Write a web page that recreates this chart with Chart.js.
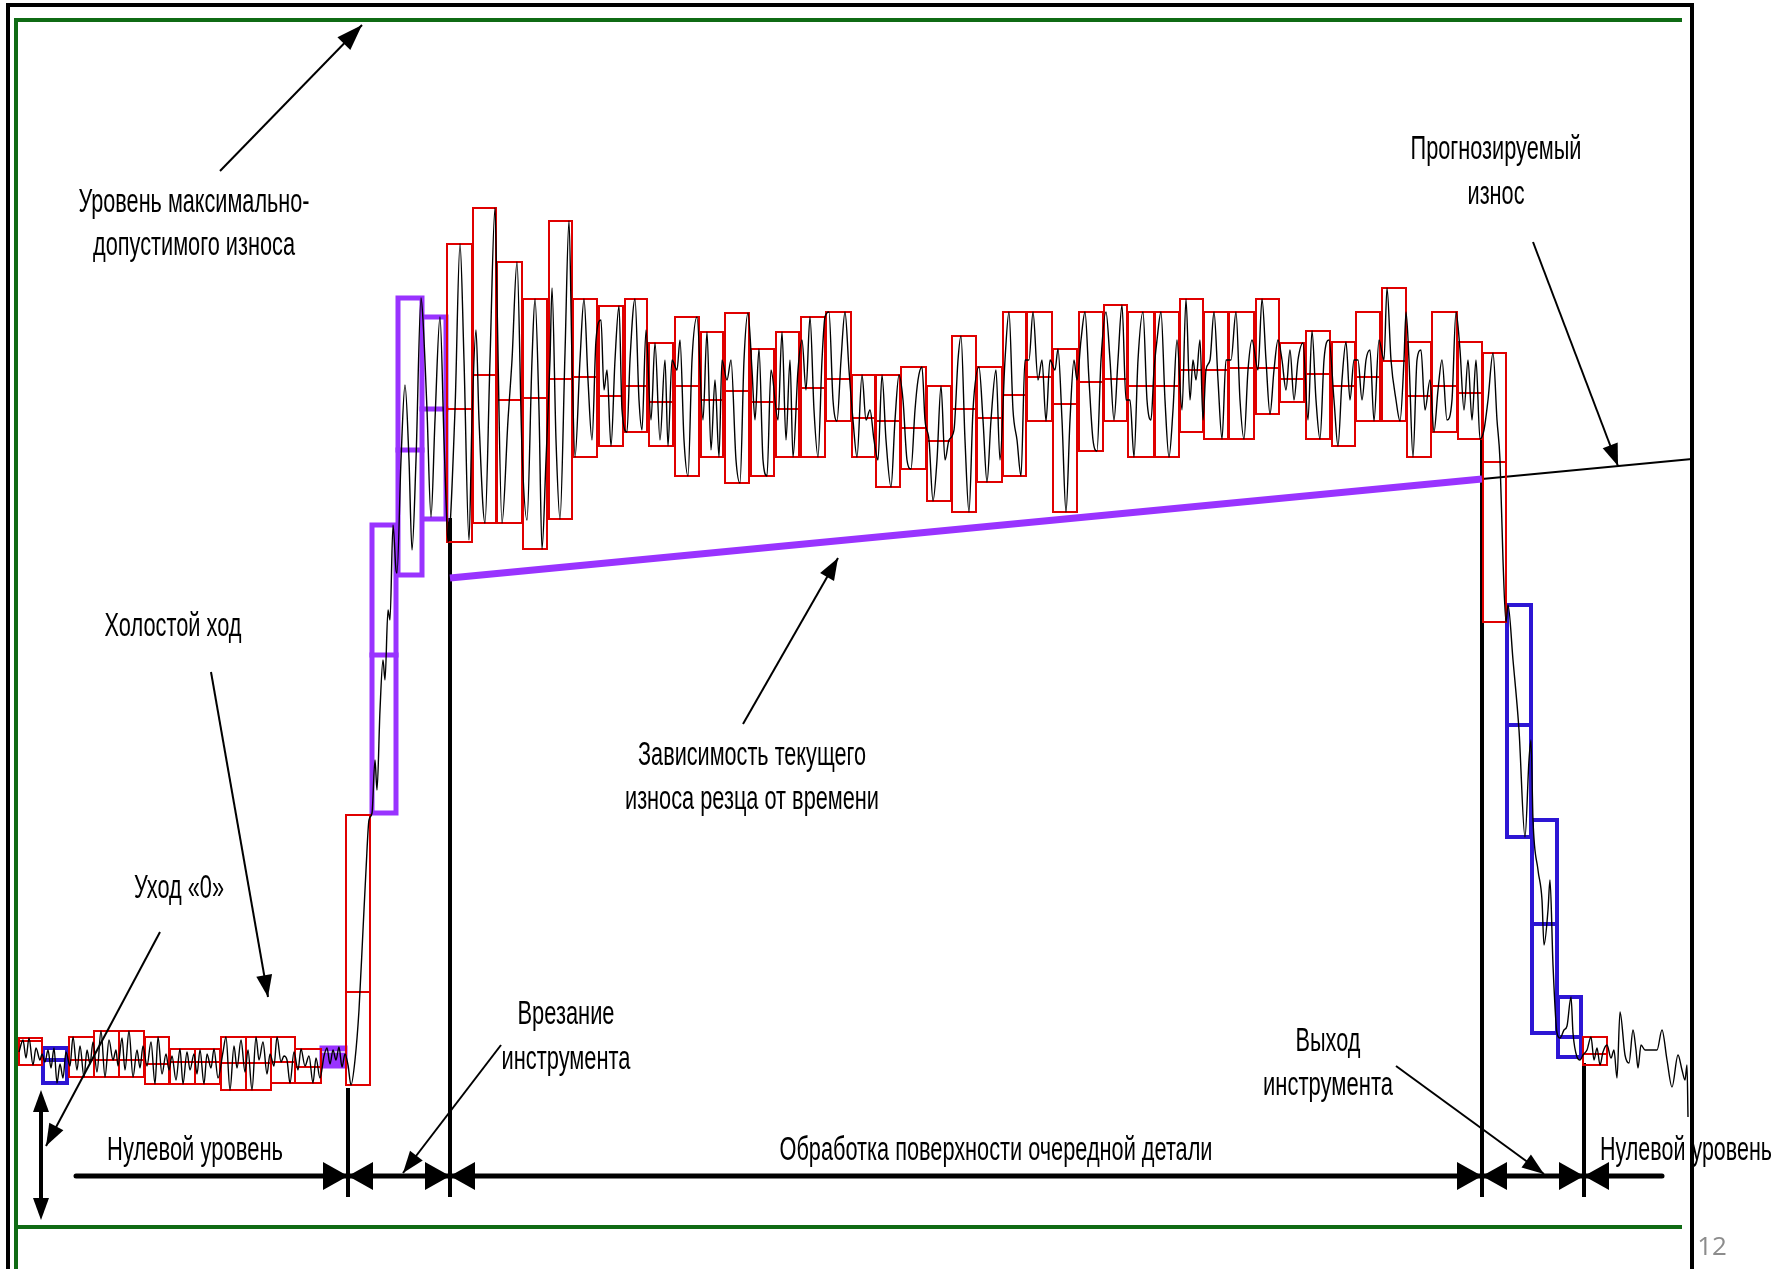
<!DOCTYPE html>
<html>
<head>
<meta charset="utf-8">
<script src="https://cdn.jsdelivr.net/npm/chart.js@4.4.1/dist/chart.umd.min.js"></script>
<style>
  html, body { margin: 0; padding: 0; background: #fff; overflow: hidden; }
  canvas { display: block; }
</style>
</head>
<body>
<canvas id="wearChart" width="1787" height="1269"></canvas>
<script>
// time axis 0..1787, wear level: 0 = zero level of the sensor

// red windows: [start, end, max, min, middle]
const redBoxes = [
  [19,42,22,-5,19], [69,94,23,-17,0], [94,119,29,-17,0], [119,144,29,-17,0],
  [145,169,23,-24,-4], [170,195,11,-24,-2], [195,220,11,-24,-2], [221,246,23,-30,-3],
  [246,271,23,-30,-3], [271,295,23,-23,-2], [295,321,11,-23,-7], [346,370,245,-25,68],
  [447,472,816,518,651], [473,496,852,537,685], [497,522,798,537,660], [523,547,761,511,662],
  [549,572,839,541,681], [573,597,761,603,683], [599,623,754,614,664], [625,647,761,628,674],
  [649,673,717,614,658], [675,699,743,584,674], [701,723,728,603,660], [725,749,747,577,669],
  [751,774,711,584,658], [776,799,728,603,651], [801,825,743,603,672], [826,851,748,639,681],
  [852,875,685,603,642], [876,900,685,573,639], [901,926,693,591,632], [927,951,674,559,619],
  [952,976,724,548,651], [977,1002,693,578,642], [1003,1026,748,584,665], [1027,1052,748,639,683],
  [1053,1077,711,548,656], [1079,1103,748,609,678], [1104,1127,755,639,681], [1128,1154,748,603,674],
  [1155,1179,748,603,674], [1180,1203,761,628,690], [1204,1228,748,621,690], [1229,1254,748,621,692],
  [1256,1279,761,646,692], [1280,1304,717,658,681], [1306,1330,729,621,686], [1332,1355,718,614,674],
  [1356,1380,748,639,683], [1382,1406,772,639,699], [1407,1431,718,603,664], [1432,1457,748,628,674],
  [1458,1482,718,621,667], [1483,1506,707,438,598], [1583,1607,23,-5,6]
];
const blueBoxes = [[43,67,12,-23,0], [1507,1531,455,223,335], [1532,1557,240,27,136], [1558,1581,63,3,23]];
const violetBoxes = [[372,396,535,247,405], [398,422,762,485,610], [422,446,743,541,651]];
const idleBox = [321,346,13,-7,8];

// sensor signal [time, level]
const signal = [
  [19,8],[23,20],[26,2],[29,22],[33,-5],[36,12],[40,0],[42,6],
  [45,-2],[48,10],[51,-8],[54,12],[57,-23],[60,-4],[63,-18],[66,8],
  [70,-6],[73,23],[77,-10],[80,14],[84,-17],[87,10],[90,-4],[93,18],
  [97,-12],[101,29],[105,-17],[109,20],[113,0],[116,10],[118,-6],
  [122,22],[125,-10],[129,29],[133,-17],[137,10],[140,-8],[143,14],
  [147,-6],[151,18],[155,-24],[158,23],[162,-14],[166,6],[169,-10],
  [172,4],[176,-20],[180,11],[183,-24],[187,8],[190,-10],[194,6],
  [197,-14],[200,10],[204,-24],[207,6],[211,-8],[214,11],[218,-18],
  [223,8],[226,23],[230,-30],[234,14],[237,-8],[241,20],[245,-12],
  [248,10],[252,-30],[256,23],[259,0],[263,18],[267,-14],[270,6],
  [274,-6],[277,23],[281,-2],[284,4],[287,0],[290,-23],[294,8],
  [298,-10],[301,11],[305,-6],[309,4],[313,-23],[316,2],[320,-18],
  [324,4],[327,12],[330,-4],[333,10],[336,0],[339,13],[342,-7],[345,6],
  [348,-5],[351,-25],[355,0],[359,50],[363,130],[366,190],[369,240],
  [372,247],[375,300],[377,270],[380,350],[383,400],[385,380],[388,450],[390,440],[393,535],[396,490],
  [397,487],[401,600],[405,675],[409,600],[412,510],[416,600],[421,762],
  [423,740],[427,650],[431,543],[435,640],[440,743],[444,620],[446,560],
  [448,518],[455,650],[460,816],[464,700],[469,520],[472,640],
  [476,730],[479,640],[485,537],[490,700],[495,852],
  [497,760],[502,537],[508,640],[512,700],[517,798],[522,610],
  [527,540],[532,700],[535,761],[539,650],[542,511],[546,600],
  [550,700],[552,772],[556,620],[560,541],[565,707],[569,839],[572,700],
  [575,603],[580,700],[584,761],[588,680],[592,620],[596,720],
  [601,740],[604,670],[607,690],[611,614],[615,700],[619,754],[622,650],
  [627,628],[630,700],[635,761],[639,660],[642,630],[646,730],
  [651,640],[655,717],[660,620],[665,700],[668,614],[672,700],
  [677,690],[680,720],[684,620],[688,584],[692,700],[697,743],
  [703,640],[707,728],[711,610],[715,680],[719,603],[722,700],
  [727,680],[731,700],[736,600],[740,577],[744,700],[748,747],
  [752,690],[755,640],[759,711],[763,600],[767,584],[771,690],
  [778,640],[782,728],[786,620],[790,700],[793,603],[798,690],
  [802,720],[806,670],[810,743],[814,650],[818,603],[822,700],[825,743],
  [829,748],[833,660],[837,639],[841,700],[845,748],[849,690],
  [853,640],[857,603],[862,685],[866,640],[870,650],[874,620],
  [878,600],[882,685],[886,620],[891,573],[895,640],[899,685],
  [903,660],[907,600],[911,591],[915,650],[918,680],[922,693],[925,640],
  [929,620],[933,559],[937,600],[941,674],[945,600],[949,620],
  [954,630],[958,700],[961,724],[965,620],[969,548],[973,650],
  [979,693],[983,640],[987,578],[991,640],[996,690],[1000,600],
  [1005,700],[1009,748],[1013,650],[1017,620],[1021,584],[1025,700],
  [1029,700],[1033,748],[1038,680],[1042,700],[1046,639],[1050,700],
  [1055,690],[1058,711],[1062,640],[1066,548],[1070,640],[1074,700],[1077,680],
  [1081,720],[1085,748],[1089,680],[1093,620],[1097,609],[1101,700],
  [1106,748],[1110,700],[1114,640],[1118,700],[1122,755],[1126,660],
  [1130,660],[1134,603],[1138,700],[1143,748],[1147,660],[1151,640],[1154,690],
  [1157,720],[1161,748],[1165,660],[1169,603],[1173,650],[1177,720],
  [1182,650],[1186,761],[1190,660],[1193,700],[1196,680],[1200,720],[1203,640],
  [1206,690],[1210,700],[1214,748],[1218,680],[1222,621],[1226,700],
  [1231,700],[1236,748],[1240,660],[1244,621],[1248,690],[1252,720],
  [1258,690],[1262,761],[1266,700],[1270,646],[1274,690],[1278,720],
  [1282,700],[1286,670],[1290,710],[1294,660],[1298,700],[1303,717],
  [1308,640],[1312,729],[1316,660],[1320,621],[1324,700],[1329,720],
  [1334,660],[1338,614],[1342,680],[1346,718],[1350,660],[1354,700],
  [1358,700],[1362,660],[1366,700],[1370,710],[1374,639],[1379,720],
  [1384,700],[1387,772],[1391,700],[1396,660],[1400,639],[1404,700],[1406,748],
  [1409,700],[1413,603],[1417,700],[1421,710],[1425,650],[1430,680],
  [1434,628],[1438,670],[1442,700],[1447,640],[1452,660],[1456,748],
  [1460,710],[1464,650],[1468,700],[1472,640],[1476,700],[1480,621],
  [1484,630],[1488,660],[1493,707],[1497,640],[1500,600],[1503,500],[1506,438],
  [1508,455],[1513,400],[1519,330],[1525,223],[1529,300],[1531,320],
  [1533,240],[1538,190],[1542,160],[1544,115],[1548,150],[1550,180],[1553,95],[1557,27],
  [1560,22],[1564,30],[1567,34],[1571,63],[1573,27],[1577,3],[1580,0],
  [1583,5],[1587,10],[1591,23],[1594,0],[1597,12],[1600,-5],[1603,8],[1607,15],
  [1611,2],[1614,10],[1617,-18],[1620,48],[1625,5],[1629,-3],[1633,30],[1636,10],[1638,-8],
  [1641,15],[1645,10],[1652,10],[1657,10],[1662,30],[1667,0],[1672,-27],[1678,5],
  [1682,-10],[1685,-20],[1687,-5],[1688,-57]
];

// current wear trend and forecast
const trendT = [450, 1482];
const trendV = [482, 581];
const forecastT = [1482, 1692];
const forecastV = [581, 601];

// phase boundaries on the time axis and the level each marker line starts from
const phaseT = [348, 450, 1482, 1584];
const phaseTop = [-28, 542, 622, -3];
const phaseBottom = -137;
const dimLevel = -116;
const dimStart = 76, dimEnd = 1662;

const maxLevel = 1040;   // max allowed wear (green)
const floorLevel = -167;

// label, time, level, width
const labels = [
  ['Уровень максимально-', 194, 857, 231],
  ['допустимого износа', 194, 814, 202],
  ['Прогнозируемый', 1496, 910, 171],
  ['износ', 1496, 865, 57],
  ['Холостой ход', 173, 433, 137],
  ['Зависимость текущего', 752, 304, 228],
  ['износа резца от времени', 752, 260, 254],
  ['Уход «0»', 179, 171, 90],
  ['Врезание', 566, 45, 97],
  ['инструмента', 566, 0, 129],
  ['Выход', 1328, 18, 65],
  ['инструмента', 1328, -26, 130],
  ['Нулевой уровень', 195, -91, 176],
  ['Обработка поверхности очередной детали', 996, -91, 433],
  ['Нулевой уровень', 1686, -91, 172]
];
// leader arrows: from (t, v) to (t, v)
const leaders = [
  [220, 889, 362, 1035],
  [1533, 818, 1618, 594],
  [211, 388, 268, 63],
  [743, 336, 838, 502],
  [160, 128, 46, -86],
  [501, 15, 403, -113],
  [1396, -6, 1544, -114]
];

function rects(rows) {
  const pts = [];
  rows.forEach(r => {
    pts.push({x: r[0], y: r[3]}, {x: r[0], y: r[2]}, {x: r[1], y: r[2]},
             {x: r[1], y: r[3]}, {x: r[0], y: r[3]}, {x: r[1], y: null});
  });
  return pts;
}
function mids(rows) {
  const pts = [];
  rows.forEach(r => { pts.push({x: r[0], y: r[4]}, {x: r[1], y: r[4]}, {x: r[1], y: null}); });
  return pts;
}
function line(data, color, width, extra) {
  return Object.assign({
    data: data, borderColor: color, borderWidth: width, pointRadius: 0,
    tension: 0, fill: false, spanGaps: false, borderJoinStyle: 'miter', borderCapStyle: 'square'
  }, extra || {});
}

const RED = '#e00000', BLUE = '#2d16d4', VIOLET = '#9933ff', GREEN = '#0f6b14';

const phaseLines = [];
phaseT.forEach((t, i) => { phaseLines.push({x: t, y: phaseTop[i]}, {x: t, y: phaseBottom}, {x: t, y: null}); });

function head(ctx, x0, y0, x1, y1, len, half) {
  const a = Math.atan2(y1 - y0, x1 - x0);
  const bx = x1 - len * Math.cos(a), by = y1 - len * Math.sin(a);
  const nx = -Math.sin(a) * half, ny = Math.cos(a) * half;
  ctx.beginPath();
  ctx.moveTo(x1, y1);
  ctx.lineTo(bx + nx, by + ny);
  ctx.lineTo(bx - nx, by - ny);
  ctx.closePath();
  ctx.fill();
}

const overlay = {
  id: 'overlay',
  afterDatasetsDraw(chart) {
    const ctx = chart.ctx;
    const xs = chart.scales.x, ys = chart.scales.y;
    const px = t => xs.getPixelForValue(t), py = v => ys.getPixelForValue(v);
    ctx.save();
    ctx.strokeStyle = '#000';
    ctx.fillStyle = '#000';

    // leader arrows
    ctx.lineWidth = 2;
    leaders.forEach((l, i) => {
      const x0 = px(l[0]), y0 = py(l[1]), x1 = px(l[2]), y1 = py(l[3]);
      ctx.beginPath(); ctx.moveTo(x0, y0); ctx.lineTo(x1, y1); ctx.stroke();
      if (i === 0) head(ctx, x0, y0, x1, y1, 26, 9);
      else head(ctx, x0, y0, x1, y1, 22, 8);
    });

    // dimension arrows at phase boundaries
    const yd = py(dimLevel);
    phaseT.forEach(t => {
      const xt = px(t);
      head(ctx, xt - 40, yd, xt, yd, 25, 14);
      head(ctx, xt + 40, yd, xt, yd, 25, 14);
    });

    // zero drift double arrow
    const xz = px(41);
    head(ctx, xz, py(-80), xz, py(-30), 22, 8);
    head(ctx, xz, py(-80), xz, py(-160), 22, 8);

    // labels, narrow face squeezed to the measured width
    ctx.textAlign = 'center';
    ctx.textBaseline = 'middle';
    labels.forEach(l => {
      ctx.font = '34px "Liberation Sans", Arial, sans-serif';
      const m = ctx.measureText(l[0]).width;
      const w = px(l[1] + l[3]) - px(l[1]);
      ctx.save();
      ctx.translate(px(l[1]), py(l[2]));
      ctx.scale(w / m, 1);
      ctx.fillText(l[0], 0, 0);
      ctx.restore();
    });

    // slide number
    ctx.fillStyle = '#8c8c8c';
    ctx.font = '26px "Open Sans", "Noto Sans", sans-serif';
    ctx.fillText('12', px(1712), py(-188));
    ctx.restore();
  }
};

new Chart(document.getElementById('wearChart'), {
  type: 'line',
  data: {
    datasets: [
      line(signal.map(p => ({x: p[0], y: p[1]})), '#000', 1.4,
           {borderJoinStyle: 'round', borderCapStyle: 'butt', cubicInterpolationMode: 'monotone'}),
      line(mids(redBoxes), RED, 2),
      line(rects(redBoxes), RED, 2),
      line(mids(blueBoxes), BLUE, 4),
      line(rects(blueBoxes), BLUE, 4),
      line(mids(violetBoxes), VIOLET, 5),
      line(rects(violetBoxes), VIOLET, 5),
      line([{x: idleBox[0], y: idleBox[4]}, {x: idleBox[1], y: idleBox[4]}], '#d7b6ff', 2),
      line(rects([idleBox]).slice(0, 5), VIOLET, 3, {fill: 'shape', backgroundColor: VIOLET}),
      line(trendT.map((t, i) => ({x: t, y: trendV[i]})), VIOLET, 7, {borderCapStyle: 'butt'}),
      line(forecastT.map((t, i) => ({x: t, y: forecastV[i]})), '#000', 2, {borderCapStyle: 'butt'}),
      line(phaseLines, '#000', 4, {borderCapStyle: 'butt'}),
      line([{x: dimStart, y: dimLevel}, {x: dimEnd, y: dimLevel}], '#000', 5, {borderCapStyle: 'round'}),
      line([{x: 41, y: -40}, {x: 41, y: -150}], '#000', 4, {borderCapStyle: 'butt'}),
      // frame
      line([{x: 16, y: -209}, {x: 16, y: maxLevel}, {x: 1682, y: maxLevel}, {x: 1682, y: null},
            {x: 16, y: floorLevel}, {x: 1682, y: floorLevel}], GREEN, 4, {borderCapStyle: 'butt'}),
      line([{x: 8, y: -209}, {x: 8, y: 1055}, {x: 1692, y: 1055}, {x: 1692, y: -209}], '#000', 4, {borderCapStyle: 'butt'})
    ]
  },
  options: {
    responsive: false,
    animation: false,
    devicePixelRatio: 1,
    layout: { padding: 0 },
    plugins: { legend: { display: false }, tooltip: { enabled: false } },
    elements: { point: { radius: 0 } },
    scales: {
      x: { type: 'linear', min: 0, max: 1787, display: false },
      y: { type: 'linear', min: -209, max: 1060, display: false }
    }
  },
  plugins: [overlay]
});
</script>
</body>
</html>
